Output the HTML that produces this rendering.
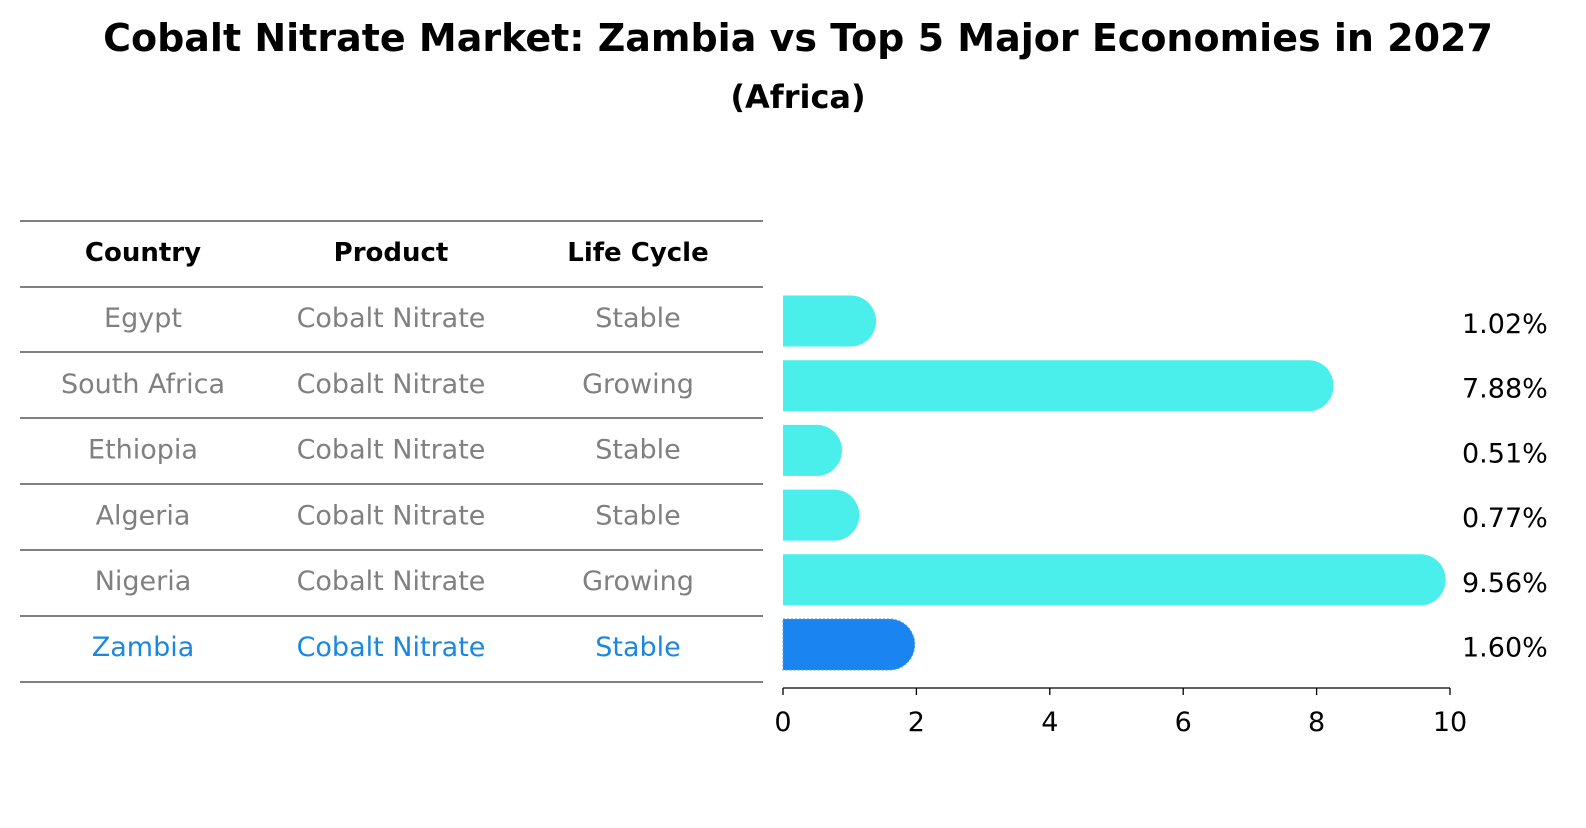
<!DOCTYPE html>
<html><head><meta charset="utf-8"><style>
body{margin:0;background:#fff;font-family:"Liberation Sans","DejaVu Sans",sans-serif;}
</style></head><body>
<svg width="1586" height="823" xmlns="http://www.w3.org/2000/svg" font-family="DejaVu Sans, Liberation Sans, sans-serif">
<text x="798" y="51" text-anchor="middle" font-size="38" font-weight="bold">Cobalt Nitrate Market: Zambia vs Top 5 Major Economies in 2027</text>
<text x="798" y="108" text-anchor="middle" font-size="32" font-weight="bold">(Africa)</text>
<g id="table"></g>
<g id="bars"></g>
<g id="axis"></g>
</svg>
<script>
const countries=["Egypt","South Africa","Ethiopia","Algeria","Nigeria","Zambia"];
const products=["Cobalt Nitrate","Cobalt Nitrate","Cobalt Nitrate","Cobalt Nitrate","Cobalt Nitrate","Cobalt Nitrate"];
const lifeCycles=["Stable","Growing","Stable","Stable","Growing","Stable"];
const values=[1.02,7.88,0.51,0.77,9.56,1.60];
const valueLabels=["1.02%","7.88%","0.51%","0.77%","9.56%","1.60%"];
const ticks=[0,2,4,6,8,10];
const NS="http://www.w3.org/2000/svg";
function mk(t,a,p){const e=document.createElementNS(NS,t);for(const k in a)e.setAttribute(k,a[k]);p.appendChild(e);return e;}
const x=v=>783+v*66.7;
const rowY=i=>321+i*64.7;
const tbl=document.getElementById('table'),bars=document.getElementById('bars'),ax=document.getElementById('axis');
const colX=[143,391,638];
["Country","Product","Life Cycle"].forEach((h,j)=>{const t=mk('text',{x:colX[j],y:261,'text-anchor':'middle','font-size':'26','font-weight':'bold'},tbl);t.textContent=h;

});
const lines=[221,287,352,418,484,550,616,682];
lines.forEach(y=>{const l=mk('line',{x1:20,x2:763,y1:y,y2:y,stroke:'#000','stroke-width':'1'},tbl);

});
countries.forEach((c,i)=>{
 const col=i===5?'#1a88e0':'#808080';
 const yy=327+i*65.8;
 [c,products[i],lifeCycles[i]].forEach((s,j)=>{const t=mk('text',{x:colX[j],y:yy,'text-anchor':'middle','font-size':'27',fill:col},tbl);t.textContent=s;
 
 });
 const cy=rowY(i),h=51,r=25,x0=x(0),x1=x(values[i]);
 const d=`M${x0},${cy-h/2} H${x1} A${r},${h/2} 0 0 1 ${x1},${cy+h/2} H${x0} Z`;
 const b=mk('path',{d:d,fill:i===5?'#1a85f0':'#4aeeea'},bars);
 if(i===5){b.setAttribute('stroke','#4a9ae0');b.setAttribute('stroke-dasharray','2,2');}
 
 
 const t=mk('text',{x:1462,y:cy+12,'font-size':'27'},bars);t.textContent=valueLabels[i];
 
 
});
const al=mk('line',{x1:x(0),x2:x(10),y1:688,y2:688,stroke:'#000','stroke-width':'1.3'},ax);


ticks.forEach(v=>{const tl=mk('line',{x1:x(v),x2:x(v),y1:688,y2:695,stroke:'#000','stroke-width':'1.3'},ax);


const t=mk('text',{x:x(v),y:731,'text-anchor':'middle','font-size':'27'},ax);t.textContent=v;

});
</script>
</body></html>
